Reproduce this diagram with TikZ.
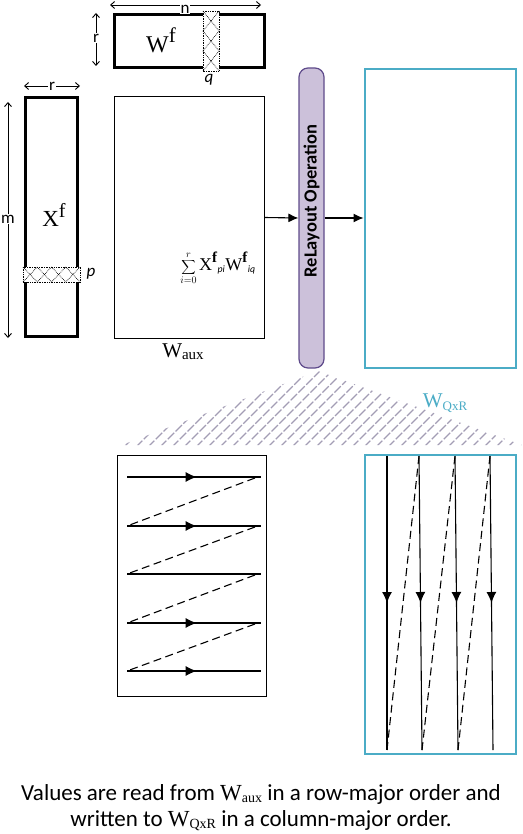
\documentclass[tikz,border=0pt]{standalone}
\usepackage{fontspec}
\setmainfont{Carlito}
\newfontfamily\tms{Liberation Serif}
\usetikzlibrary{arrows.meta,decorations.markings}
\definecolor{cyanb}{HTML}{4BACC6}
\definecolor{relfill}{HTML}{CCC1DA}
\definecolor{reldraw}{HTML}{5F4B8B}
\definecolor{hatchc}{HTML}{A39DB5}
\begin{document}
\begin{tikzpicture}[x=1pt,y=-1pt,
  thickbox/.style={draw, line width=3pt, inner sep=0pt},
  thinbox/.style={draw, line width=1pt, inner sep=0pt},
  cyanbox/.style={draw=cyanb, line width=2pt, inner sep=0pt},
  relbox/.style={draw=reldraw, fill=relfill, line width=1.2pt, rounded corners=9pt, inner sep=0pt},
  dimarrow/.style={{Straight Barb[length=4pt,width=7pt]}-{Straight Barb[length=4pt,width=7pt]}, line width=0.9pt},
  dimlabel/.style={fill=white, inner sep=1pt, font=\fontsize{17}{17}\selectfont},
  flow/.style={-{Latex[length=10pt,width=9pt]}, line width=1.1pt},
  hatchcell/.style={densely dotted, line width=0.7pt},
  hatchline/.style={draw=hatchc, line width=1.1pt, dash pattern=on 9pt off 2pt},
  midarrow/.style={postaction={decorate}, decoration={markings, mark=at position #1 with {\arrow{Latex[length=11pt,width=10pt]}}}},
  rowline/.style={line width=1.1pt},
  dashline/.style={line width=1.1pt, dash pattern=on 8pt off 4.5pt}
]
\useasboundingbox (0,0) rectangle (522,834);

% ---- hatched projection region
\begin{scope}
\clip (122,445) -- (318,371) -- (522,445) -- cycle;
\foreach \k in {0,...,40} \draw[hatchline] (100+\k*12,447) -- ++(85,-85);
\end{scope}

% ---- main boxes
\node[thickbox, minimum width=150pt, minimum height=53pt] (Wf) at (189.5,41) {};
\node[thickbox, minimum width=52pt, minimum height=239pt] (Xf) at (51.5,217) {};
\node[thinbox, minimum width=150pt, minimum height=241pt] (Waux) at (189,217.5) {};
\node[relbox, minimum width=25pt, minimum height=300pt] (rel) at (311.5,218) {};
\node[cyanbox, minimum width=151pt, minimum height=298pt] (WQ) at (440,218.5) {};
\node[thinbox, line width=1.5pt, minimum width=149pt, minimum height=241pt] (rowbox) at (192,576) {};
\node[cyanbox, minimum width=151pt, minimum height=299pt] (colbox) at (440,604) {};

% ---- hatched column q and row p
\fill[white] (203,11) rectangle (219,71);
\draw[hatchcell] (203,11) rectangle (219,71);
\foreach \i in {0,1,2} {
  \draw[hatchcell] (203,11+20*\i) -- (219,31+20*\i);
  \draw[hatchcell] (219,11+20*\i) -- (203,31+20*\i);
}
\fill[white] (23,267) rectangle (80,282);
\draw[hatchcell] (23,267) rectangle (80,282);
\foreach \i in {0,1,2,3} {
  \draw[hatchcell] (23+14.25*\i,267) -- (37.25+14.25*\i,282);
  \draw[hatchcell] (37.25+14.25*\i,267) -- (23+14.25*\i,282);
}

% ---- dimension arrows
\coordinate (nA) at (110,5); \coordinate (nB) at (261,5);
\draw[dimarrow] (nA) -- (nB);
\node[dimlabel] (nlab) at (185,9) {n};
\coordinate (rA) at (96,13); \coordinate (rB) at (96,66);
\draw[dimarrow] (rA) -- (rB);
\node[dimlabel] (rlab) at (96,38) {r};
\coordinate (r2A) at (24,86); \coordinate (r2B) at (80,86);
\draw[dimarrow] (r2A) -- (r2B);
\node[dimlabel] (r2lab) at (52,86) {r};
\coordinate (mA) at (8,102); \coordinate (mB) at (8,338);
\draw[dimarrow] (mA) -- (mB);
\node[dimlabel] (mlab) at (8,219) {m};

\node[font=\itshape\fontsize{17}{17}\selectfont] (qlab) at (209,80) {q};
\node[font=\itshape\fontsize{17}{17}\selectfont] (plab) at (91,274) {p};

% ---- matrix labels
\node[font=\tms\fontsize{24}{24}\selectfont, inner sep=0pt] (Wflab) at (161,40) {W\raisebox{10pt}{\fontsize{21}{21}\selectfont f}};
\node[font=\tms\fontsize{23}{23}\selectfont, inner sep=0pt] (Xflab) at (54,215) {X\raisebox{9pt}{\fontsize{20}{20}\selectfont f}};
\node[font=\tms\fontsize{21}{21}\selectfont, inner sep=0pt] (Wauxlab) at (183,352) {W\raisebox{-2pt}{\fontsize{15}{15}\selectfont aux}};
\node[inner sep=0pt, font=\fontsize{14}{14}\selectfont] (sumlab) at (218,268)
  {$\displaystyle\sum_{i=0}^{r}\hbox{\tms\fontsize{18}{18}\selectfont X}^{\hbox{\tms\bfseries\fontsize{15}{15}\selectfont f}}{}_{\mathit{pi}}\hbox{\tms\fontsize{18}{18}\selectfont W}^{\hbox{\tms\bfseries\fontsize{15}{15}\selectfont f}}{}_{\mathit{iq}}$};
\node[text=cyanb, font=\tms\fontsize{21}{21}\selectfont, inner sep=0pt] (WQlab) at (445,403) {W\raisebox{-3pt}{\fontsize{13}{13}\selectfont QxR}};

\node[rotate=90, font=\bfseries\fontsize{18.5}{18.5}\selectfont, inner sep=0pt] (reltext) at ([yshift=17pt]rel.center) {ReLayout Operation};

% ---- flow arrows
\draw[flow] (Waux.east) -- (rel.west);
\draw[flow] (rel.east) -- (rel.east -| WQ.west);

% ---- row-major traversal
\foreach \i/\y in {1/477,2/526,3/574,4/623,5/671} {
  \coordinate (Ls\i) at (127,\y);
  \coordinate (Le\i) at (261,\y);
}
\draw[rowline, midarrow=0.52] (Ls1) -- (Le1);
\draw[rowline, midarrow=0.52] (Ls2) -- (Le2);
\draw[rowline] (Ls3) -- (Le3);
\draw[rowline, midarrow=0.52] (Ls4) -- (Le4);
\draw[rowline, midarrow=0.52] (Ls5) -- (Le5);
\foreach \i/\j in {1/2,2/3,3/4,4/5} \draw[dashline] ([xshift=-6pt,yshift=-1pt]Le\i) -- (Ls\j);

% ---- column-major traversal
\foreach \i/\xt/\xb in {1/387/387,2/419/422,3/455/458,4/490/493} {
  \coordinate (Ct\i) at (\xt,456);
  \coordinate (Cb\i) at (\xb,750);
  \draw[rowline, midarrow=0.5] (Ct\i) -- (Cb\i);
}
\foreach \i/\j in {1/2,2/3,3/4} \draw[dashline] (Cb\i) -- (Ct\j);

% ---- caption
\node[font=\fontsize{23}{26}\selectfont, align=center, inner sep=0pt] (caption) at (261,808)
  {Values are read from {\tms W\raisebox{-2pt}{\fontsize{14}{14}\selectfont aux}} in a row-major order and\\
   written to {\tms W\raisebox{-2pt}{\fontsize{14}{14}\selectfont QxR}} in a column-major order.};
\end{tikzpicture}
\end{document}
